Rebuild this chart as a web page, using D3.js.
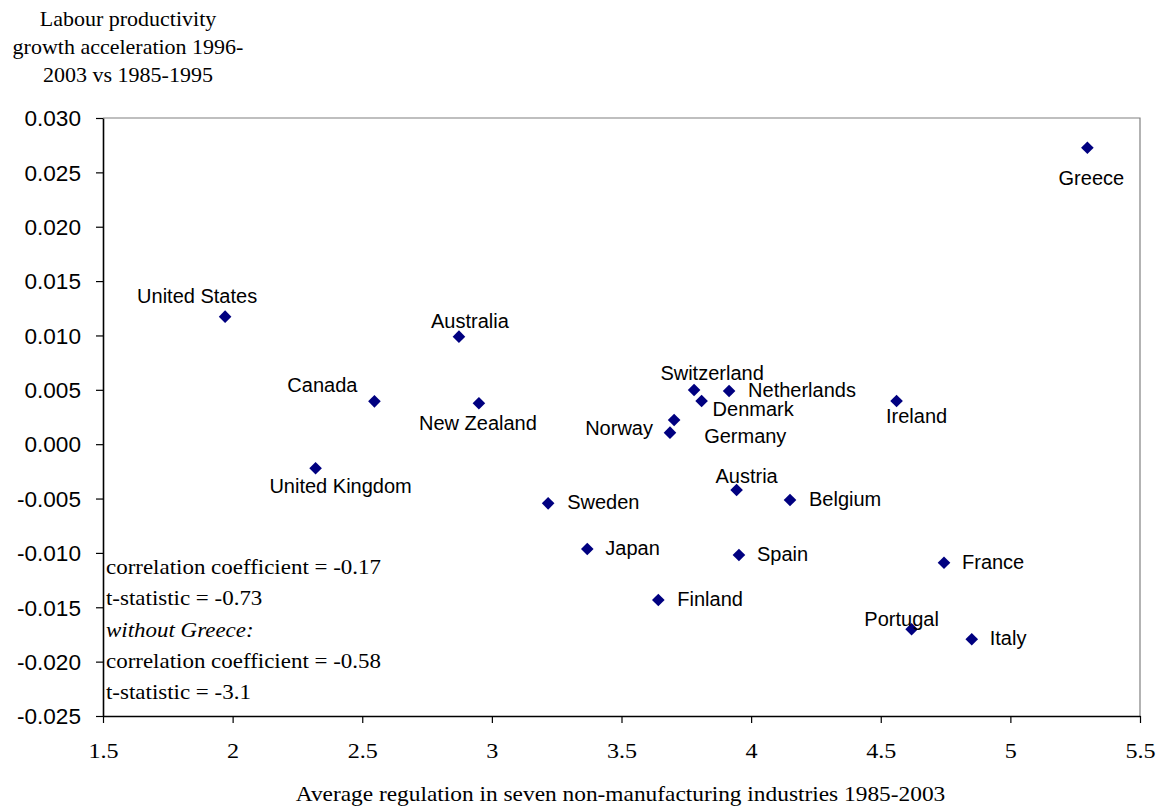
<!DOCTYPE html>
<html>
<head>
<meta charset="utf-8">
<script src="https://cdn.jsdelivr.net/npm/d3@7"></script>
<style>
  html, body { margin: 0; padding: 0; background: #fff; }
  svg { display: block; }
  .serif { font-family: "Liberation Serif", "Times New Roman", serif; fill: #000; }
  .sans { font-family: "Liberation Sans", Arial, sans-serif; fill: #000; }
</style>
</head>
<body>
<svg id="chart" width="1159" height="809"></svg>
<script>
// ---- data ----
const countries = ["Greece","United States","Australia","Canada","New Zealand","United Kingdom",
  "Sweden","Japan","Finland","Norway","Germany","Switzerland","Denmark","Netherlands",
  "Austria","Spain","Belgium","Ireland","France","Portugal","Italy"];
const regulation = [5.297,1.971,2.873,2.547,2.950,2.320,
  3.217,3.368,3.642,3.687,3.703,3.780,3.809,3.915,
  3.944,3.953,4.150,4.561,4.744,4.619,4.851];
const productivityAccel = [0.02727,0.01173,0.00989,0.00394,0.00376,-0.00222,
  -0.00544,-0.00964,-0.01433,0.00106,0.00223,0.00498,0.00397,0.00489,
  -0.00421,-0.01019,-0.00513,0.00397,-0.01090,-0.01702,-0.01794];
const xTickValues = [1.5,2,2.5,3,3.5,4,4.5,5,5.5];
const xTickLabels = ["1.5","2","2.5","3","3.5","4","4.5","5","5.5"];
const yTickValues = [-0.025,-0.020,-0.015,-0.010,-0.005,0,0.005,0.010,0.015,0.020,0.025,0.030];
const yTickLabels = ["-0.025","-0.020","-0.015","-0.010","-0.005","0.000","0.005","0.010","0.015","0.020","0.025","0.030"];
const yTitleLines = ["Labour productivity","growth acceleration 1996-","2003 vs 1985-1995"];
const xTitle = "Average regulation in seven non-manufacturing industries 1985-2003";
const statLines = ["correlation coefficient = -0.17","t-statistic = -0.73","without Greece:",
  "correlation coefficient = -0.58","t-statistic = -3.1"];

// ---- label layout (anchor, dx, dy relative to marker) ----
const labelLayout = {
  "Greece": ["middle", 4, 37],
  "United States": ["middle", -28, -14],
  "Australia": ["middle", 11, -9],
  "Canada": ["end", -17, -9],
  "New Zealand": ["middle", -1, 27],
  "United Kingdom": ["middle", 25, 25],
  "Sweden": ["start", 19, 6],
  "Japan": ["start", 18, 6],
  "Finland": ["start", 19, 6],
  "Norway": ["end", -17, 2],
  "Germany": ["start", 30, 23],
  "Switzerland": ["middle", 18, -10],
  "Denmark": ["start", 11, 15],
  "Netherlands": ["start", 19, 6],
  "Austria": ["middle", 10, -7],
  "Spain": ["start", 18, 6],
  "Belgium": ["start", 19, 6],
  "Ireland": ["middle", 20, 22],
  "France": ["start", 18, 6],
  "Portugal": ["middle", -10, -3],
  "Italy": ["start", 18, 6]
};

const svg = d3.select("#chart");
const m = { left: 103, right: 1140, top: 118, bottom: 716 };

const x = d3.scaleLinear().domain([1.5, 5.5]).range([m.left, m.right]);
const y = d3.scaleLinear().domain([-0.025, 0.030]).range([m.bottom, m.top]);

// plot frame (top/right grey)
svg.append("path")
  .attr("d", `M${m.left},${m.top}H${m.right}V${m.bottom}`)
  .attr("fill", "none").attr("stroke", "#808080").attr("stroke-width", 1.2);

// Y axis
const yAxis = svg.append("g")
  .attr("transform", `translate(${m.left},0)`)
  .call(d3.axisLeft(y).tickValues(yTickValues).tickSize(7).tickSizeOuter(0)
    .tickFormat((d, i) => yTickLabels[i]));
yAxis.selectAll("path.domain").attr("stroke", "#000").attr("stroke-width", 1.6);
yAxis.selectAll(".tick line").attr("stroke", "#000").attr("stroke-width", 1.2);
yAxis.selectAll(".tick text")
  .attr("class", "sans").attr("x", -21).attr("dy", "0.36em")
  .style("font-size", "21.5px").attr("font-family", null)
  .attr("transform", "scale(1.05,1)");

// X axis
const xAxis = svg.append("g")
  .attr("transform", `translate(0,${m.bottom})`)
  .call(d3.axisBottom(x).tickValues(xTickValues).tickSize(7).tickSizeOuter(0)
    .tickFormat((d, i) => xTickLabels[i]));
xAxis.selectAll("path.domain").attr("stroke", "#000").attr("stroke-width", 1.6);
xAxis.selectAll(".tick line").attr("stroke", "#000").attr("stroke-width", 1.2);
xAxis.selectAll(".tick text")
  .attr("class", "serif").attr("y", 42).attr("dy", 0)
  .style("font-size", "21px").attr("font-family", null)
  .attr("transform", "scale(1.15,1)");

// Y title
const yt = svg.append("text").attr("class", "serif")
  .attr("text-anchor", "middle").style("font-size", "20px")
  .attr("transform", "translate(128,0) scale(1.1,1)");
yTitleLines.forEach((t, i) => {
  yt.append("tspan").attr("x", 0).attr("y", 26 + i * 28).text(t);
});

// X title
svg.append("text").attr("class", "serif")
  .attr("text-anchor", "middle").style("font-size", "20.5px")
  .attr("transform", "translate(620.5,801) scale(1.14,1)")
  .text(xTitle);

// stats text
const st = svg.append("text").attr("class", "serif")
  .style("font-size", "20.5px")
  .attr("transform", "translate(106,0) scale(1.12,1)");
statLines.forEach((t, i) => {
  st.append("tspan").attr("x", 0).attr("y", 574 + i * 31.3)
    .style("font-style", i === 2 ? "italic" : "normal").text(t);
});

// markers
const pts = countries.map((c, i) => ({ name: c, rx: regulation[i], ry: productivityAccel[i] }));
const diamond = "M0,-6.3L6.3,0L0,6.3L-6.3,0Z";
svg.append("g").selectAll("path")
  .data(pts).join("path")
  .attr("d", diamond)
  .attr("transform", d => `translate(${x(d.rx)},${y(d.ry)})`)
  .attr("fill", "#000080");

// labels
svg.append("g").selectAll("text")
  .data(pts).join("text")
  .attr("class", "sans")
  .style("font-size", "20px")
  .attr("text-anchor", d => labelLayout[d.name][0])
  .attr("x", d => x(d.rx) + labelLayout[d.name][1])
  .attr("y", d => y(d.ry) + labelLayout[d.name][2])
  .text(d => d.name);
</script>
</body>
</html>
